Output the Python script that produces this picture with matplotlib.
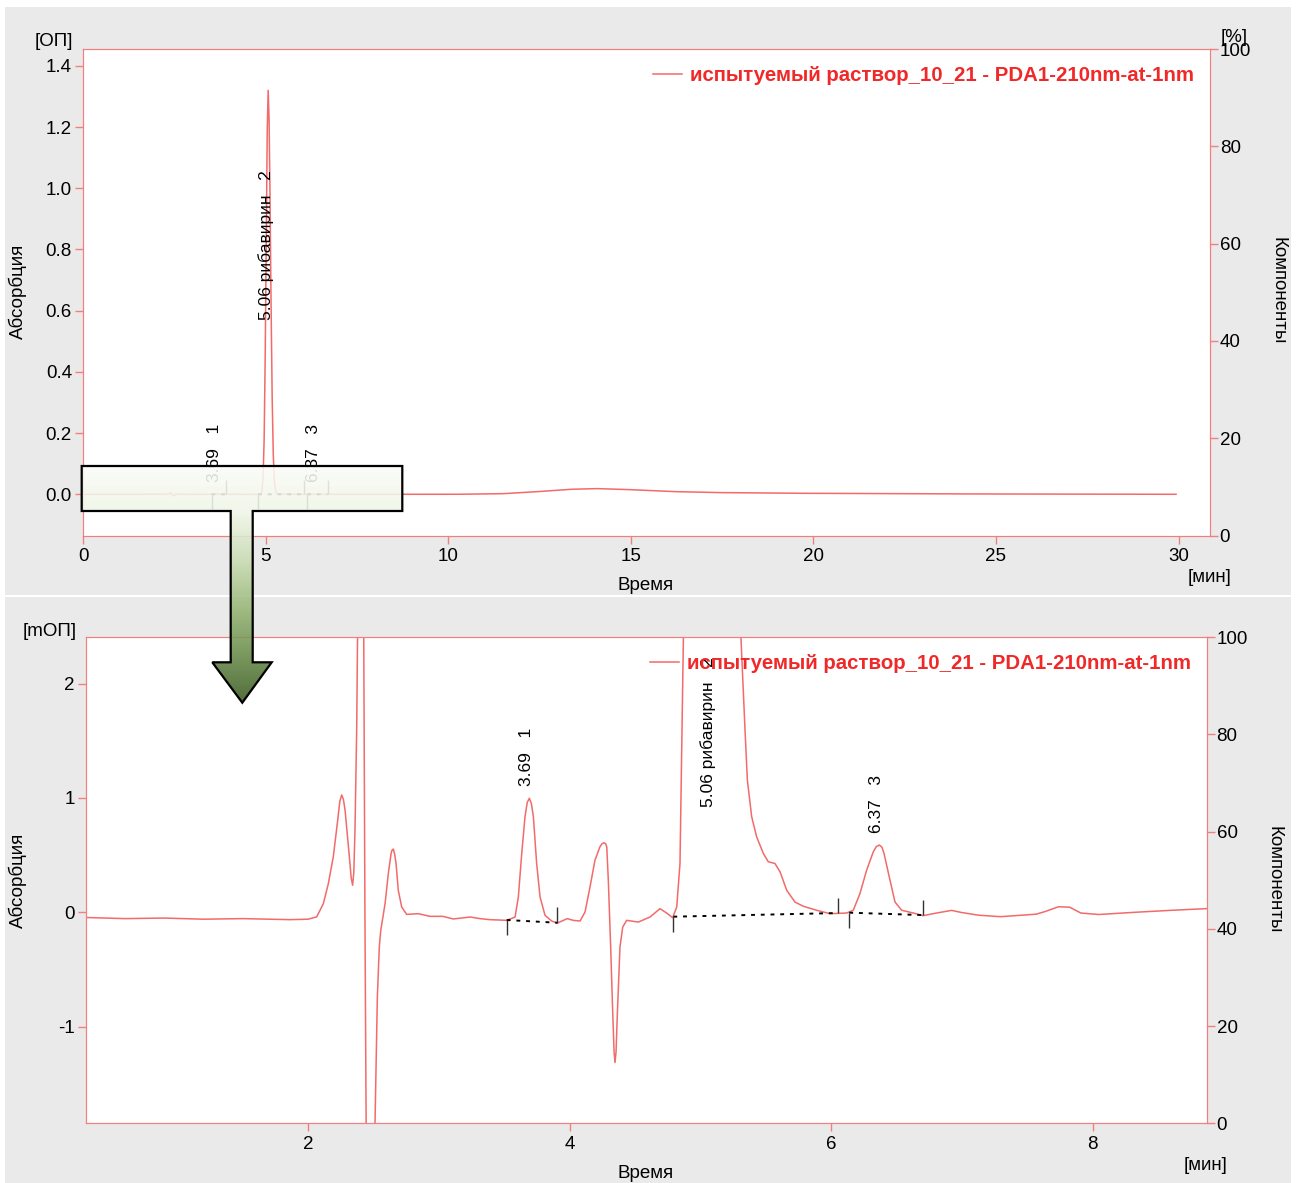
import numpy as np
import matplotlib
matplotlib.use('Agg')
import matplotlib.pyplot as plt
from matplotlib.patches import Polygon, Rectangle
from matplotlib.colors import LinearSegmentedColormap

plt.rcParams['font.family'] = ['Liberation Sans', 'DejaVu Sans']

# хроматограмма: время [мин], сигнал [мОП]
time_min = [0.00, 0.30, 0.60, 0.90, 1.20, 1.50, 1.86, 2.00, 2.066, 2.117, 2.155, 2.193, 2.227, 2.243,
            2.257, 2.27, 2.283, 2.316, 2.33, 2.341, 2.35, 2.359, 2.372, 2.38, 2.39, 2.40, 2.42, 2.435,
            2.45, 2.47, 2.49, 2.505, 2.512, 2.53, 2.545, 2.556, 2.589, 2.614, 2.635, 2.643, 2.652,
            2.662, 2.673, 2.69, 2.716, 2.754, 2.843, 2.933, 3.03, 3.11, 3.24, 3.315, 3.39, 3.519,
            3.583, 3.608, 3.634, 3.659, 3.676, 3.692, 3.708, 3.723, 3.748, 3.774, 3.812, 3.863, 3.906,
            3.982, 4.028, 4.08, 4.118, 4.156, 4.194, 4.232, 4.248, 4.263, 4.275, 4.284, 4.296, 4.314,
            4.33, 4.34, 4.347, 4.355, 4.365, 4.385, 4.406, 4.436, 4.525, 4.615, 4.691, 4.742, 4.788,
            4.819, 4.844, 4.87, 4.90, 4.93, 4.96, 4.99, 5.02, 5.045, 5.07, 5.095, 5.12, 5.15, 5.18,
            5.21, 5.24, 5.27, 5.31, 5.341, 5.359, 5.392, 5.43, 5.481, 5.519, 5.57, 5.609, 5.66, 5.723,
            5.787, 5.889, 5.991, 6.118, 6.169, 6.22, 6.271, 6.322, 6.345, 6.368, 6.388, 6.404, 6.444,
            6.488, 6.539, 6.628, 6.704, 6.806, 6.921, 6.99, 7.125, 7.296, 7.568, 7.636, 7.738, 7.823,
            7.909, 8.045, 8.317, 8.589, 8.862, 9.5, 10.26, 11.5, 12.45, 13.38, 14.09, 14.95, 16.21,
            17.46, 19.66, 22.01, 24.36, 27.0, 29.93]
signal_mau = [-0.05, -0.045, -0.055, -0.05, -0.06, -0.055, -0.064, -0.06, -0.04, 0.076, 0.25, 0.485,
              0.807, 0.97, 1.026, 0.99, 0.895, 0.485, 0.30, 0.237, 0.35, 0.72, 1.6, 2.6, 5.0, 6.0, 4.0,
              0.0, -3.0, -5.0, -4.0, -2.2, -1.85, -0.74, -0.30, -0.158, 0.076, 0.34, 0.515, 0.545,
              0.553, 0.51, 0.427, 0.193, 0.047, -0.018, -0.012, -0.035, -0.035, -0.058, -0.041, -0.055,
              -0.064, -0.07, -0.041, 0.134, 0.515, 0.836, 0.96, 0.997, 0.95, 0.836, 0.427, 0.134,
              -0.026, -0.076, -0.094, -0.055, -0.07, -0.076, 0.003, 0.222, 0.456, 0.573, 0.60, 0.608,
              0.60, 0.573, 0.281, -0.304, -0.889, -1.22, -1.313, -1.22, -0.889, -0.304, -0.129, -0.07,
              -0.085, -0.041, 0.032, -0.006, -0.047, 0.047, 0.427, 2.4, 11.0, 52.0, 179.0, 458.0,
              874.0, 1190.0, 1320.0, 1226.0, 982.0, 619.0, 316.0, 130.0, 43.0, 11.6, 2.4, 1.6, 1.158,
              0.836, 0.66, 0.515, 0.442, 0.427, 0.354, 0.193, 0.09, 0.053, 0.018, -0.012, -0.006, 0.018,
              0.164, 0.368, 0.529, 0.575, 0.588, 0.57, 0.515, 0.31, 0.09, 0.018, -0.006, -0.029, -0.006,
              0.017, 0.0, -0.025, -0.038, -0.016, 0.007, 0.049, 0.045, -0.006, -0.019, 0.0, 0.017,
              0.032, 0.06, 0.1, 2.0, 8.7, 16.4, 18.5, 15.3, 8.7, 5.5, 3.3, 2.2, 1.1, 0.5, 0.0]

# интегрирование пиков
peak_labels = ['3.69   1', '5.06 рибавирин   2', '6.37   3']
peak_start = [3.519, 4.793, 6.138]
peak_end = [3.906, 6.054, 6.699]
base_start_mau = [-0.067, -0.038, -0.003]
base_end_mau = [-0.091, -0.006, -0.024]

legend_label = 'испытуемый раствор_10_21 - PDA1-210nm-at-1nm'
top_xticks = [0, 5, 10, 15, 20, 25, 30]
top_yticks = [0.0, 0.2, 0.4, 0.6, 0.8, 1.0, 1.2, 1.4]
bot_xticks = [2, 4, 6, 8]
bot_yticks = [-1, 0, 1, 2]
pct_ticks = [0, 20, 40, 60, 80, 100]

W, H = 1298, 1183
RED = '#F08080'
TRACE = '#F26A6A'
FS = 13.5

t = np.array(time_min)
s = np.array(signal_mau)

fig = plt.figure(figsize=(W / 100, H / 100), dpi=100)
fig.patch.set_facecolor('white')


def fp(x, y):
    return x / W, 1 - y / H


for y0, y1 in [(7, 595), (597, 1183)]:
    fig.add_artist(Rectangle(fp(5, y1), 1286 / W, (y1 - y0) / H, transform=fig.transFigure,
                             facecolor='#EAEAEA', edgecolor='none', zorder=-5))


def setup(ax, xlim, ylim, xticks, yticks, ylabels):
    ax.set_xlim(*xlim)
    ax.set_ylim(*ylim)
    ax.set_xticks(xticks)
    ax.set_yticks(yticks)
    ax.set_yticklabels(ylabels)
    for sp in ax.spines.values():
        sp.set_color(RED)
    ax.tick_params(colors=RED, labelcolor='black', labelsize=FS, length=6, width=1)
    ax.tick_params(axis='y', pad=2)
    ax.tick_params(axis='x', pad=3)
    ax2 = ax.twinx()
    ax2.set_ylim(0, 100)
    ax2.set_yticks(pct_ticks)
    for sp in ax2.spines.values():
        sp.set_color(RED)
    ax2.tick_params(colors=RED, labelcolor='black', labelsize=FS, length=6, width=1, pad=1)
    return ax2


def marks(ax, scale, tick_len, lab_x, lab_y):
    for ps, pe, bs, be in zip(peak_start, peak_end, base_start_mau, base_end_mau):
        ax.plot([ps, pe], [bs * scale, be * scale], color='black', ls=(0, (2, 3)), lw=1.4)
        ax.vlines(ps, bs * scale - tick_len, bs * scale, color='#333333', lw=1)
        ax.vlines(pe, be * scale, be * scale + tick_len, color='#333333', lw=1)
    for lab, x, y in zip(peak_labels, lab_x, lab_y):
        ax.text(x, y, lab, rotation=90, ha='center', va='bottom', fontsize=12.5)


# верхний график, ОП
ax_top = fig.add_axes([83 / W, 1 - 535.6 / H, 1127 / W, 486.6 / H])
ax_top.plot(t, s / 1000, color=TRACE, lw=1.1, label=legend_label)
ax_top2 = setup(ax_top, (0, 30.86), (-0.135, 1.455), top_xticks, top_yticks,
                [f'{v:.1f}' for v in top_yticks])
marks(ax_top, 1 / 1000, 0.048, [3.60, 5.0, 6.31], [0.041, 0.57, 0.041])

# нижний график, мОП
ax_bot = fig.add_axes([85.7 / W, 1 - 1123.4 / H, 1121.1 / W, 486.2 / H])
ax_bot.plot(t, s, color=TRACE, lw=1.1, label=legend_label)
ax_bot2 = setup(ax_bot, (0.30, 8.872), (-1.845, 2.405), bot_xticks, bot_yticks,
                [str(v) for v in bot_yticks])
marks(ax_bot, 1, 0.135, [3.667, 5.058, 6.35], [1.10, 0.92, 0.69])

for ax in (ax_top2, ax_bot2):
    ax.legend(*ax_top.get_legend_handles_labels(), loc='upper right', frameon=False,
              bbox_to_anchor=(1.002, 1.003), handlelength=1.4, handletextpad=0.4,
              prop={'weight': 'bold', 'size': 14.7}, labelcolor='#F02828')

# подписи осей
for (x, y, txt, rot) in [(54, 42, '[ОП]', 0), (50, 632, '[mОП]', 0), (1234, 38, '[%]', 0),
                         (1210, 577, '[мин]', 0), (1206, 1165, '[мин]', 0),
                         (646, 586, 'Время', 0), (646, 1174, 'Время', 0),
                         (18, 291, 'Абсорбция', 90), (18, 880, 'Абсорбция', 90),
                         (1278, 291, 'Компоненты', 270), (1274, 880, 'Компоненты', 270)]:
    fig.text(*fp(x, y), txt, rotation=rot, ha='center', va='center', fontsize=FS)

# стрелка увеличения
ov = fig.add_axes([0, 0, 1, 1], zorder=10)
ov.patch.set_visible(False)
ov.axis('off')
shape = [(81.7, 466), (402.3, 466), (402.3, 511), (252.7, 511), (252.7, 662.3), (271.7, 662.3),
         (242.3, 702.7), (212.3, 662.3), (230.7, 662.3), (230.7, 511), (81.7, 511)]
poly = Polygon(shape, closed=True, facecolor='none', edgecolor='black', lw=1.6, zorder=3)
ov.add_patch(poly)
cmap = LinearSegmentedColormap.from_list('g', [(0, '#FBFCF8'), (0.2, '#EFF5E6'), (0.4, '#C9DCB2'),
                                              (0.6, '#97B676'), (0.8, '#668A48'), (1, '#3B5820')])
grad = np.linspace(0, 1, 256).reshape(-1, 1)
im = ov.imshow(grad, cmap=cmap, extent=(81, 403, 703, 466), aspect='auto', origin='upper',
               alpha=0.88, zorder=2)
im.set_clip_path(poly)
ov.set_xlim(0, W)
ov.set_ylim(H, 0)

fig.savefig('out.png', dpi=100)
